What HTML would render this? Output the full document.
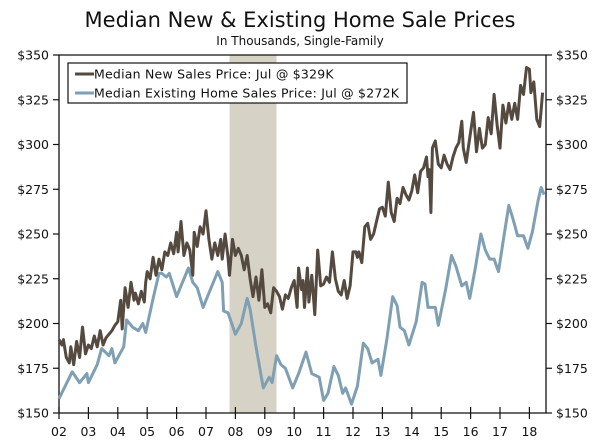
<!DOCTYPE html>
<html><head><meta charset="utf-8"><style>
body{margin:0;background:#fff;}
svg{display:block;font-family:"DejaVu Sans","Liberation Sans",sans-serif;}
</style></head><body>
<svg id="chart" width="600" height="442" viewBox="0 0 600 442" xmlns="http://www.w3.org/2000/svg">
<text x="300" y="27" text-anchor="middle" font-size="21" fill="#111">Median New &amp; Existing Home Sale Prices</text>
<text x="300" y="45" text-anchor="middle" font-size="12" fill="#111">In Thousands, Single-Family</text>
<g id="plot"></g>
</svg>
<script>
const yTicks=[150,175,200,225,250,275,300,325,350];
const xYears=[2002,2003,2004,2005,2006,2007,2008,2009,2010,2011,2012,2013,2014,2015,2016,2017,2018];
const recession=[2007.8,2009.4];
const existDates=[2002.0,2002.45,2002.7,2002.95,2003.0,2003.3,2003.45,2003.7,2003.8,2003.9,2004.2,2004.3,2004.5,2004.7,2004.85,2004.95,2005.2,2005.4,2005.5,2005.65,2005.75,2006.0,2006.2,2006.4,2006.55,2006.7,2006.9,2007.1,2007.4,2007.55,2007.6,2007.75,2008.0,2008.2,2008.4,2008.5,2008.7,2008.95,2009.15,2009.25,2009.4,2009.55,2009.7,2009.95,2010.15,2010.4,2010.6,2010.85,2011.0,2011.15,2011.35,2011.5,2011.65,2011.75,2011.95,2012.15,2012.35,2012.5,2012.65,2012.85,2012.95,2013.15,2013.35,2013.5,2013.6,2013.75,2013.9,2014.15,2014.35,2014.45,2014.55,2014.8,2014.9,2015.15,2015.35,2015.5,2015.7,2015.85,2015.97,2016.15,2016.35,2016.5,2016.65,2016.8,2016.95,2017.1,2017.3,2017.45,2017.6,2017.8,2017.95,2018.1,2018.3,2018.4,2018.5];
const existValues=[158,173,167,172,167,177,186,182,186,178,187,202,198,196,200,195,214,228,228,226,228,215,223,231,223,220,209,217,229,223,207,206,194,200,214,208,187,164,170,167,182,177,175,164,172,184,172,170,157,161,176,171,161,164,155,165,189,186,178,180,171,191,215,210,198,196,188,201,223,222,209,209,199,219,238,232,221,223,214,230,250,241,236,236,229,245,266,258,249,249,242,251,269,276,272];
const newDates=[2002.0,2002.1,2002.15,2002.25,2002.35,2002.4,2002.5,2002.6,2002.7,2002.8,2002.9,2003.0,2003.1,2003.2,2003.3,2003.4,2003.5,2003.6,2003.7,2003.8,2003.9,2004.0,2004.1,2004.15,2004.25,2004.35,2004.45,2004.55,2004.6,2004.7,2004.8,2004.9,2004.95,2005.0,2005.1,2005.2,2005.3,2005.4,2005.5,2005.6,2005.7,2005.8,2005.9,2006.0,2006.05,2006.15,2006.25,2006.35,2006.45,2006.55,2006.6,2006.7,2006.8,2006.9,2007.0,2007.1,2007.2,2007.3,2007.4,2007.5,2007.55,2007.65,2007.75,2007.8,2007.9,2008.0,2008.1,2008.2,2008.3,2008.4,2008.5,2008.6,2008.7,2008.8,2008.9,2009.0,2009.1,2009.2,2009.3,2009.4,2009.5,2009.6,2009.7,2009.8,2009.9,2010.0,2010.1,2010.15,2010.25,2010.3,2010.35,2010.45,2010.5,2010.6,2010.7,2010.8,2010.9,2011.0,2011.1,2011.2,2011.3,2011.4,2011.5,2011.6,2011.7,2011.8,2011.9,2012.0,2012.1,2012.15,2012.2,2012.3,2012.4,2012.5,2012.6,2012.7,2012.8,2012.9,2013.0,2013.1,2013.2,2013.3,2013.4,2013.5,2013.6,2013.7,2013.8,2013.9,2014.0,2014.1,2014.2,2014.3,2014.4,2014.5,2014.55,2014.6,2014.65,2014.7,2014.8,2014.9,2015.0,2015.1,2015.2,2015.3,2015.4,2015.5,2015.6,2015.7,2015.75,2015.85,2016.0,2016.1,2016.2,2016.3,2016.4,2016.5,2016.6,2016.7,2016.8,2016.9,2017.0,2017.1,2017.2,2017.3,2017.4,2017.5,2017.6,2017.7,2017.8,2017.9,2018.0,2018.05,2018.15,2018.25,2018.35,2018.45];
const newValues=[191,188,191,181,178,187,177,190,181,198,183,188,186,193,187,196,188,192,194,196,199,201,213,197,220,209,223,213,217,211,218,212,223,229,225,237,227,236,230,240,238,245,239,251,240,257,238,245,241,227,251,243,254,250,263,247,236,245,238,247,236,250,237,227,247,238,242,238,230,238,225,215,226,213,230,209,211,206,220,218,215,208,216,214,220,224,209,231,219,224,209,231,212,227,205,241,221,222,226,223,240,225,218,216,224,214,221,240,240,237,240,234,254,256,247,250,257,264,265,260,279,262,257,270,267,276,272,269,274,283,273,285,287,293,282,286,262,298,302,289,287,294,289,286,293,298,301,313,298,290,307,318,296,309,298,300,315,306,328,311,298,322,312,323,314,323,314,333,328,343,342,329,335,314,310,329];

const NS='http://www.w3.org/2000/svg';
const L=59,R=546,T=55,B=413;
const X0=2002,PX=29.4;
function xs(t){return L+(t-X0)*PX;}
function ys(v){return B-(v-150)*(B-T)/200;}
const plot=document.getElementById('plot');
function mk(tag,attrs){const e=document.createElementNS(NS,tag);for(const k in attrs)e.setAttribute(k,attrs[k]);plot.appendChild(e);return e;}

let rb=mk('rect',{x:xs(recession[0]),y:T,width:xs(recession[1])-xs(recession[0]),height:B-T,fill:'#d6d2c6'});



let fr=mk('path',{d:`M${L},${B}V${T}H${R}V${B}H${L}`,fill:'none',stroke:'#111','stroke-width':1.3});



yTicks.forEach(v=>{
  const y=ys(v);
  mk('line',{x1:L-6,x2:L,y1:y,y2:y,stroke:'#111','stroke-width':1.2});
  mk('line',{x1:R,x2:R+6,y1:y,y2:y,stroke:'#111','stroke-width':1.2});
  let tl=mk('text',{x:L-10,y:y+4.5,'text-anchor':'end','font-size':12.5,fill:'#111'});
  tl.textContent='$'+v;
  
  
  let tr=mk('text',{x:R+10,y:y+4.5,'text-anchor':'start','font-size':12.5,fill:'#111'});
  tr.textContent='$'+v;
  
  
});
xYears.forEach(yr=>{
  const x=xs(yr);
  mk('line',{x1:x,x2:x,y1:B-6,y2:B+6,stroke:'#111','stroke-width':1.2});
  let t=mk('text',{x:x,y:B+23,'text-anchor':'middle','font-size':12.5,fill:'#111'});
  t.textContent=String(yr).slice(2);
  
  
});
function line(dates,vals,color,name){
  const d=dates.map((t,i)=>(i?'L':'M')+xs(t).toFixed(1)+','+ys(vals[i]).toFixed(1)).join('');
  const p=mk('path',{d:d,fill:'none',stroke:color,'stroke-width':3,'stroke-linejoin':'round'});
  
  
}
line(existDates,existValues,'#7f9fb2','existing-home-price-line');
line(newDates,newValues,'#554a3f','new-home-price-line');

let lg=mk('rect',{x:68,y:63,width:339,height:40,fill:'#fff',stroke:'#111','stroke-width':1.2});


mk('line',{x1:75,x2:94,y1:74,y2:74,stroke:'#554a3f','stroke-width':3});
mk('line',{x1:75,x2:94,y1:93,y2:93,stroke:'#7f9fb2','stroke-width':3});
let l1=mk('text',{x:94,y:78.5,'font-size':12.5,fill:'#111','letter-spacing':0.22});
l1.textContent='Median New Sales Price: Jul @ $329K';


let l2=mk('text',{x:94,y:97.5,'font-size':12.5,fill:'#111','letter-spacing':0.22});
l2.textContent='Median Existing Home Sales Price: Jul @ $272K';


</script>
</body></html>
